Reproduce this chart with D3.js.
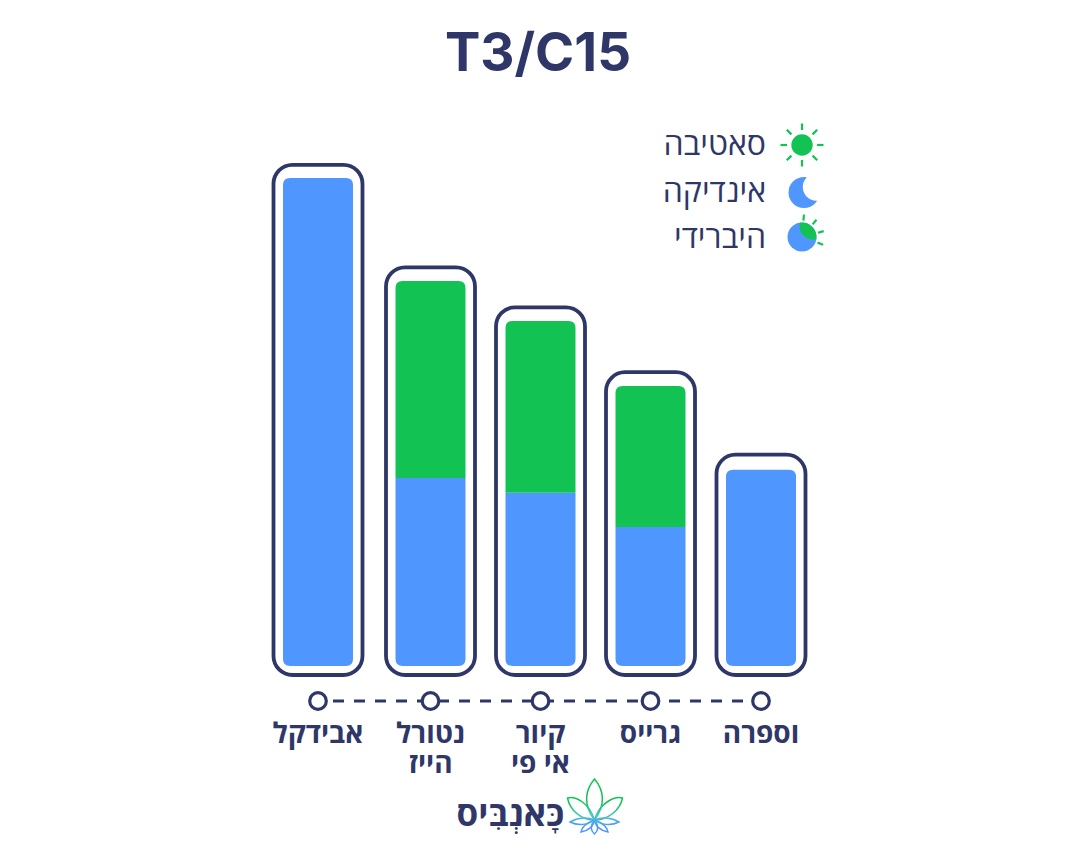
<!DOCTYPE html>
<html><head><meta charset="utf-8">
<style>
html, body { margin: 0; padding: 0; background: white; }
svg { display: block; }
text { font-family: 'Open Sans', 'Liberation Sans', 'DejaVu Sans', sans-serif; fill: #2f3768; }
.he { direction: rtl; text-anchor: middle; }
</style>
</head>
<body>
<svg id="chart" width="1080" height="850"></svg>
<script src="https://d3js.org/d3.v7.min.js"></script>
<script>
const title = "T3/C15";
const categories = [["אבידקל"], ["נטורל", "הייז"], ["קיור", "אי פי"], ["גרייס"], ["וספרה"]];
const indica = [100, 38.5, 35.5, 28.5, 40.2];
const sativa = [0, 40.4, 35.2, 28.9, 0];
const frameTop = [102.7, 81.7, 73.5, 60.2, 43.3];
const legendLabels = ["סאטיבה", "אינדיקה", "היברידי"];
const logoText = "כָּאנְבִּיס";

const navy = "#2f3768", blue = "#5096ff", green = "#12c353";
const svg = d3.select("#chart");

const x = d3.scaleOrdinal().domain(d3.range(categories.length)).range([318, 430.5, 540.5, 650.5, 761]);
const y = d3.scaleLinear().domain([0, 100]).range([666, 178]);
const barW = 70, r = 7;

// box with only some corners rounded
function bar(cx, y0, y1, top, bottom) {
  const l = cx - barW / 2, w = barW;
  const rt = top ? r : 0, rb = bottom ? r : 0;
  return `M${l},${y0 - rb}V${y1 + rt}` + (rt ? `Q${l},${y1} ${l + rt},${y1}` : "") +
    `H${l + w - rt}` + (rt ? `Q${l + w},${y1} ${l + w},${y1 + rt}` : "") +
    `V${y0 - rb}` + (rb ? `Q${l + w},${y0} ${l + w - rb},${y0}` : "") +
    `H${l + rb}` + (rb ? `Q${l},${y0} ${l},${y0 - rb}` : "") + "Z";
}

svg.append("text").attr("x", 538).attr("y", 71).attr("text-anchor", "middle")
  .style("font-family", "Inter, sans-serif").style("font-size", "53px").style("font-weight", 700).text(title);

const groups = svg.selectAll("g.col").data(categories).join("g").attr("class", "col");

groups.append("rect")
  .attr("x", (d, i) => x(i) - 44.5).attr("width", 89)
  .attr("y", (d, i) => y(frameTop[i]))
  .attr("height", (d, i) => 675 - y(frameTop[i]))
  .attr("rx", 19)
  .attr("fill", "white").attr("stroke", navy).attr("stroke-width", 3.8);

groups.append("path").attr("fill", blue)
  .attr("d", (d, i) => bar(x(i), y(0), y(indica[i]), sativa[i] === 0, true));
groups.filter((d, i) => sativa[i] > 0).append("path").attr("fill", green)
  .attr("d", function (d) {
    const i = categories.indexOf(d);
    return bar(x(i), y(indica[i]), y(indica[i] + sativa[i]), true, false);
  });

// timeline under the bars
svg.append("line").attr("x1", x(0) + 15).attr("x2", x(4) - 11).attr("y1", 701).attr("y2", 701)
  .attr("stroke", navy).attr("stroke-width", 3).attr("stroke-dasharray", "11 10");
svg.selectAll("circle.dot").data(categories).join("circle").attr("class", "dot")
  .attr("cx", (d, i) => x(i)).attr("cy", 701).attr("r", 8.3)
  .attr("fill", "white").attr("stroke", navy).attr("stroke-width", 3.2);

// labels, one text per category, second line as a tspan
groups.each(function (d, i) {
  d3.select(this).append("text").attr("class", "he")
    .attr("y", 743).style("font-size", "28px").style("font-weight", 700)
    .selectAll("tspan").data(d).join("tspan")
    .attr("x", x(i)).attr("dy", (t, j) => j ? 30 : 0).text(t => t);
});

// legend
svg.selectAll("text.leg").data(legendLabels).join("text").attr("class", "leg")
  .attr("x", 766).attr("y", (d, i) => 155 + i * 46.5)
  .attr("text-anchor", "start").style("direction", "rtl")
  .style("font-size", "32px").text(d => d);

function rays(g, cx, cy, angles, r0, r1) {
  g.selectAll(null).data(angles).join("line")
    .attr("x1", a => cx + r0 * Math.cos(a * Math.PI / 180)).attr("y1", a => cy + r0 * Math.sin(a * Math.PI / 180))
    .attr("x2", a => cx + r1 * Math.cos(a * Math.PI / 180)).attr("y2", a => cy + r1 * Math.sin(a * Math.PI / 180))
    .attr("stroke", green).attr("stroke-width", 2.2);
}
const sun = svg.append("g");
rays(sun, 802, 145, d3.range(0, 360, 45), 15, 21.5);
sun.append("circle").attr("cx", 802).attr("cy", 145).attr("r", 10.7).attr("fill", green);

const moon = svg.append("g");
moon.append("circle").attr("cx", 804).attr("cy", 192.5).attr("r", 15.5).attr("fill", blue);
moon.append("circle").attr("cx", 816.5).attr("cy", 187).attr("r", 13.7).attr("fill", "white");

const hybrid = svg.append("g");
rays(hybrid, 802, 237, [-85, -50, -15, 20], 16.5, 22.5);
hybrid.append("circle").attr("cx", 802).attr("cy", 237).attr("r", 14.5).attr("fill", blue);
hybrid.append("path").attr("fill", green)
  .attr("d", "M800,222.7A14.5,14.5 0 0 1 816.3,239.2A13.5,13.5 0 0 1 800,222.7Z");

// logo
const defs = svg.append("defs");
const grad = defs.append("linearGradient").attr("id", "leaf").attr("gradientUnits", "userSpaceOnUse")
  .attr("x1", 0).attr("x2", 0).attr("y1", 802).attr("y2", 826);
grad.append("stop").attr("offset", "0").attr("stop-color", green);
grad.append("stop").attr("offset", "0.55").attr("stop-color", "#45c8c0");
grad.append("stop").attr("offset", "1").attr("stop-color", blue);
const leaves = [
  "M594.5,779C585,790 583,805 594.5,820C606,805 604,790 594.5,779Z",
  "M567.5,798C575,796 589,802 594.5,820C582,820 570,811 567.5,798Z",
  "M622.5,798C615,796 600,802 594.5,820C607,820 620,811 622.5,798Z",
  "M570,822C578,817 588,817 594.5,820C588,825 578,826 570,822Z",
  "M619,822C611,817 601,817 594.5,820C601,825 611,826 619,822Z",
  "M581,832C582,826 589,822 594.5,820C594,826 588,831 581,832Z",
  "M608,832C607,826 600,822 594.5,820C595,826 601,831 608,832Z",
  "M594.5,820C590,826 591,831 594.5,834C598,831 599,826 594.5,820Z"
];
svg.selectAll("path.leaf").data(leaves).join("path").attr("class", "leaf")
  .attr("d", d => d).attr("fill", "none").attr("stroke", "url(#leaf)").attr("stroke-width", 1.5);
svg.append("text").attr("x", 510.5).attr("y", 826).attr("class", "he")
  .style("font-size", "35px").style("font-weight", 700).text(logoText);
</script>
</body>
</html>
